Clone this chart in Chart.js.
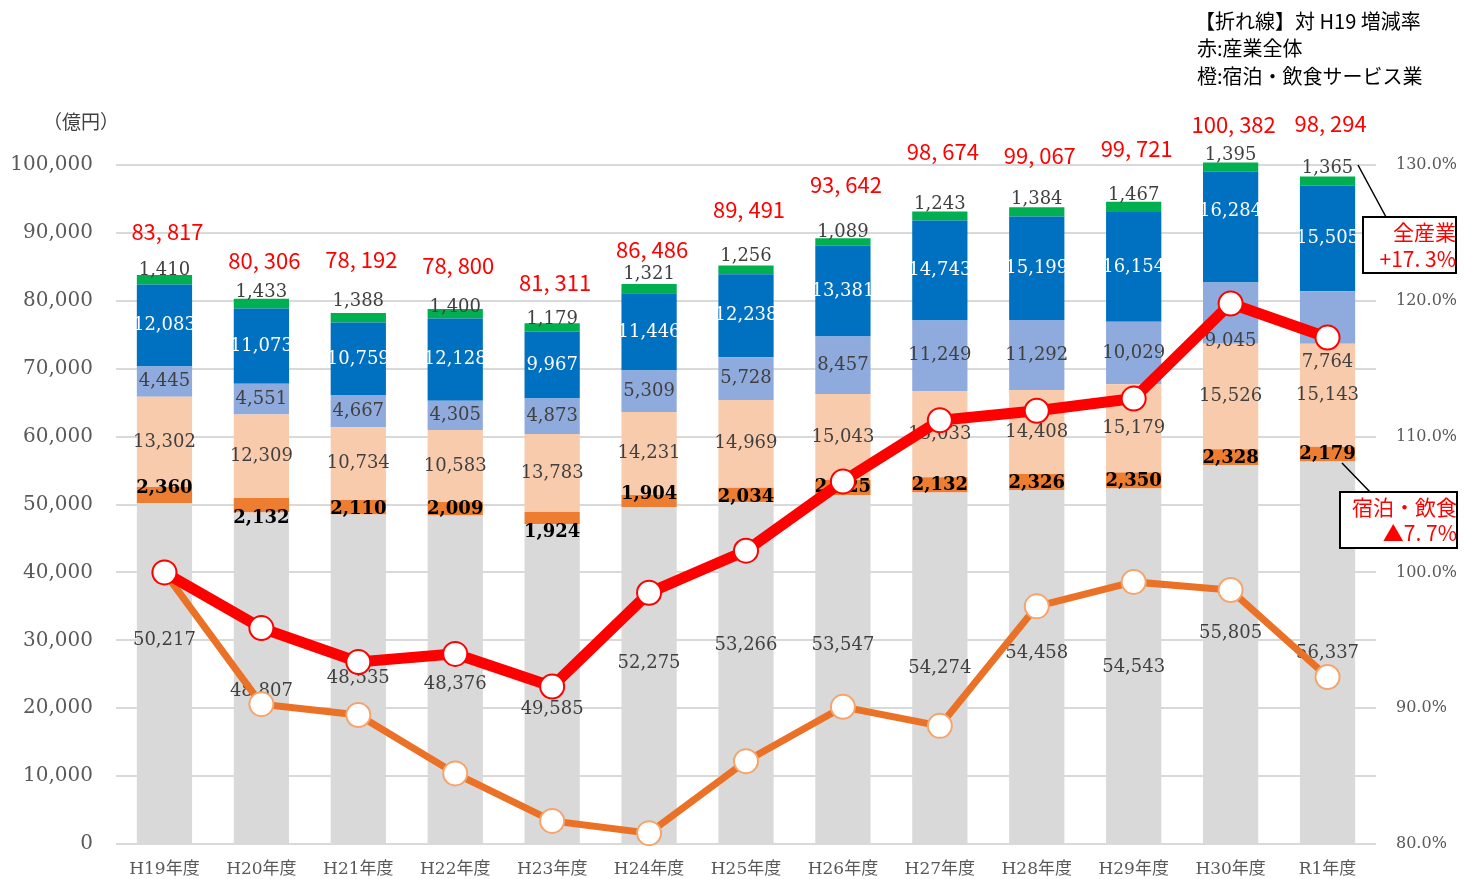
<!DOCTYPE html>
<html lang="ja">
<head>
<meta charset="utf-8">
<script src="https://cdn.jsdelivr.net/npm/chart.js@4.4.1/dist/chart.umd.min.js"></script>
<style>
  html, body { margin: 0; padding: 0; background: #fff; }
  #wrap { position: relative; width: 1469px; height: 879px; }
</style>
</head>
<body>
<div id="wrap"><canvas id="chart"></canvas></div>
<script>
const years = ['H19年度', 'H20年度', 'H21年度', 'H22年度', 'H23年度', 'H24年度', 'H25年度',
  'H26年度', 'H27年度', 'H28年度', 'H29年度', 'H30年度', 'R1年度'];

// segment heights as drawn in the picture (億円)
const grayVals = [50217, 48807, 48535, 48376, 47140, 49640, 50330, 51410, 51750, 52140, 52340, 55805, 56337];
const orangeVals = [2360, 2132, 2110, 2009, 1770, 1770, 2150, 2210, 2270, 2360, 2360, 2328, 2179];
const peachVals = [13302, 12309, 10734, 10583, 11490, 12230, 12920, 12670, 12710, 12370, 13020, 15526, 15143];
const lightBlueVals = [4445, 4551, 4667, 4305, 5200, 6080, 6290, 8440, 10360, 10310, 9180, 9045, 7764];
const blueVals = [12083, 11073, 10759, 12128, 9870, 11400, 12230, 13360, 14730, 15220, 16160, 16284, 15505];
const greenVals = [1410, 1433, 1388, 1400, 1240, 1370, 1270, 1135, 1330, 1385, 1520, 1395, 1365];

// numbers printed on the segments
const grayText = [50217, 48807, 48535, 48376, 49585, 52275, 53266, 53547, 54274, 54458, 54543, 55805, 56337];
const orangeText = [2360, 2132, 2110, 2009, 1924, 1904, 2034, 2125, 2132, 2326, 2350, 2328, 2179];
const peachText = [13302, 12309, 10734, 10583, 13783, 14231, 14969, 15043, 15033, 14408, 15179, 15526, 15143];
const lightBlueText = [4445, 4551, 4667, 4305, 4873, 5309, 5728, 8457, 11249, 11292, 10029, 9045, 7764];
const blueText = [12083, 11073, 10759, 12128, 9967, 11446, 12238, 13381, 14743, 15199, 16154, 16284, 15505];
const greenText = [1410, 1433, 1388, 1400, 1179, 1321, 1256, 1089, 1243, 1384, 1467, 1395, 1365];
const totalText = [83817, 80306, 78192, 78800, 81311, 86486, 89491, 93642, 98674, 99067, 99721, 100382, 98294];

// 対H19 増減率 (%)
const allIndustry = [100.0, 95.9, 93.4, 94.0, 91.6, 98.5, 101.6, 106.7, 111.2, 111.9, 112.8, 119.8, 117.3];
const accomFood = [100.0, 90.3, 89.5, 85.2, 81.7, 80.8, 86.1, 90.1, 88.7, 97.5, 99.3, 98.7, 92.3];

// label nudges in px (the original labels were moved by hand)
const grayShift = [-33, 14, 0, 5, 26, -12, -27, -24, 1, -13, 2, -21, 1];
const orangeShift = [-7, 13, 2, 1, 14, -7, 2, 0, 0, 1, 1, 1, 0];
const zeroShift = years.map(() => 0);
const lightBlueShift = [0, 0, 0, 0, 0, 0, 0, 0, 0, 0, 0, 28, 45];
const blueShift = [0, 0, 0, 0, 0, 0, 0, 0, 0, 0, 0, -16, 0];
const greenShift = [-5, -6, -12, -2, -4, -10, -9, -6, -7, -8, -6, -7, -8];
const totalShift = [-43, -38, -53, -43, -40, -34, -56, -54, -60, -52, -53, -38, -53];

const SERIF = "'DejaVu Serif', 'Noto Sans CJK JP', serif";
const JP = "'Noto Sans CJK JP', sans-serif";
const fmt = v => v.toLocaleString('en-US');

const segStyles = [
  { text: grayText, shift: grayShift, font: '18px ' + SERIF, color: '#404040' },
  { text: orangeText, shift: orangeShift, font: 'bold 18px ' + SERIF, color: '#000000' },
  { text: peachText, shift: zeroShift, font: '18px ' + SERIF, color: '#404040' },
  { text: lightBlueText, shift: lightBlueShift, font: '18px ' + SERIF, color: '#404040' },
  { text: blueText, shift: blueShift, font: '18px ' + SERIF, color: '#ffffff' },
  { text: greenText, shift: greenShift, font: '18px ' + SERIF, color: '#404040', top: true }
];

const labelPlugin = {
  id: 'segLabels',
  // bars are drawn from the last dataset to the first, so dataset 0 is the last bar layer
  afterDatasetDraw(chart, args) {
    if (args.index !== 0) return;
    const ctx = chart.ctx;
    ctx.save();
    ctx.textAlign = 'center';
    ctx.textBaseline = 'middle';
    segStyles.forEach((st, di) => {
      chart.getDatasetMeta(di).data.forEach((bar, i) => {
        const y = st.top ? bar.y + st.shift[i] : (bar.y + bar.base) / 2 + st.shift[i];
        ctx.font = st.font;
        ctx.fillStyle = st.color;
        ctx.fillText(fmt(st.text[i]), bar.x, y);
      });
    });
    ctx.restore();
  },
  afterDraw(chart) {
    const ctx = chart.ctx;
    ctx.save();
    // totals
    ctx.textAlign = 'center';
    ctx.textBaseline = 'middle';
    ctx.font = '22px ' + JP;
    ctx.fillStyle = '#ff0000';
    chart.getDatasetMeta(5).data.forEach((bar, i) => {
      ctx.fillText(fmt(totalText[i]).replace(',', ', '), bar.x + 3, bar.y + totalShift[i]);
    });

    // unit
    ctx.fillStyle = '#404040';
    ctx.font = '19px ' + JP;
    ctx.fillText('（億円）', 81, 122);

    // note top right
    ctx.textAlign = 'left';
    ctx.fillStyle = '#000000';
    ctx.font = '20px ' + JP;
    ctx.fillText('【折れ線】対 H19 増減率', 1195, 21);
    ctx.fillText('赤:産業全体', 1197, 48);
    ctx.fillText('橙:宿泊・飲食サービス業', 1197, 76);

    // callouts
    ctx.strokeStyle = '#000000';
    ctx.lineWidth = 1.5;
    ctx.beginPath();
    ctx.moveTo(1358, 165); ctx.lineTo(1386, 217);
    ctx.moveTo(1342, 463); ctx.lineTo(1370, 492);
    ctx.stroke();
    ctx.fillStyle = '#ffffff';
    ctx.fillRect(1363, 217, 93, 56);
    ctx.fillRect(1340, 492, 117, 56);
    ctx.lineWidth = 2;
    ctx.strokeRect(1363, 217, 93, 56);
    ctx.strokeRect(1340, 492, 117, 56);
    ctx.textAlign = 'right';
    ctx.fillStyle = '#ff0000';
    ctx.font = '21px ' + JP;
    ctx.fillText('全産業', 1456, 232);
    ctx.fillText('+17. 3%', 1456, 259);
    ctx.fillText('宿泊・飲食', 1457, 507);
    ctx.fillText('▲7. 7%', 1457, 533);
    ctx.restore();
  }
};

const barSet = (label, data, color) => ({
  label, data, backgroundColor: color, borderWidth: 0,
  yAxisID: 'y', order: 2, clip: false,
  barPercentage: 0.57, categoryPercentage: 1.0
});

new Chart(document.getElementById('chart'), {
  type: 'bar',
  data: {
    labels: years,
    datasets: [
      barSet('gray', grayVals, '#d9d9d9'),
      barSet('orange', orangeVals, '#ed7d31'),
      barSet('peach', peachVals, '#f8cbad'),
      barSet('lightblue', lightBlueVals, '#8faadc'),
      barSet('blue', blueVals, '#0070c0'),
      barSet('green', greenVals, '#00b050'),
      {
        type: 'line', label: '全産業', data: allIndustry, yAxisID: 'y1', order: 0,
        borderColor: '#ff0000', borderWidth: 11, tension: 0, clip: false,
        pointRadius: 12, pointBackgroundColor: '#ffffff', pointBorderColor: '#ff0000', pointBorderWidth: 2
      },
      {
        type: 'line', label: '宿泊・飲食サービス業', data: accomFood, yAxisID: 'y1', order: 1,
        borderColor: '#ea7125', borderWidth: 7, tension: 0, clip: false,
        pointRadius: 12, pointBackgroundColor: '#ffffff', pointBorderColor: '#f4a46c', pointBorderWidth: 2
      }
    ]
  },
  options: {
    responsive: true,
    maintainAspectRatio: false,
    animation: false,
    events: [],
    layout: { padding: { top: 165, left: 0, right: 0, bottom: 0 } },
    plugins: { legend: { display: false }, tooltip: { enabled: false } },
    scales: {
      x: {
        stacked: true,
        grid: { display: false },
        border: { display: false },
        ticks: { color: '#595959', font: { family: SERIF, size: 17 }, padding: 7, maxRotation: 0, autoSkip: false },
        afterFit: s => { s.height = 35; }
      },
      y: {
        stacked: true, min: 0, max: 100000,
        ticks: { stepSize: 10000, color: '#595959', font: { family: SERIF, size: 20 }, padding: 23, callback: v => fmt(v) },
        grid: { color: '#d9d9d9', lineWidth: 2, drawTicks: false },
        border: { display: false },
        afterFit: s => { s.width = 116; }
      },
      y1: {
        position: 'right', min: 80, max: 130,
        ticks: { stepSize: 10, color: '#595959', font: { family: SERIF, size: 16 }, padding: 20, callback: v => v.toFixed(1) + '%' },
        grid: { display: false, drawTicks: false },
        border: { display: false },
        afterFit: s => { s.width = 93; }
      }
    }
  },
  plugins: [labelPlugin]
});
</script>
</body>
</html>
